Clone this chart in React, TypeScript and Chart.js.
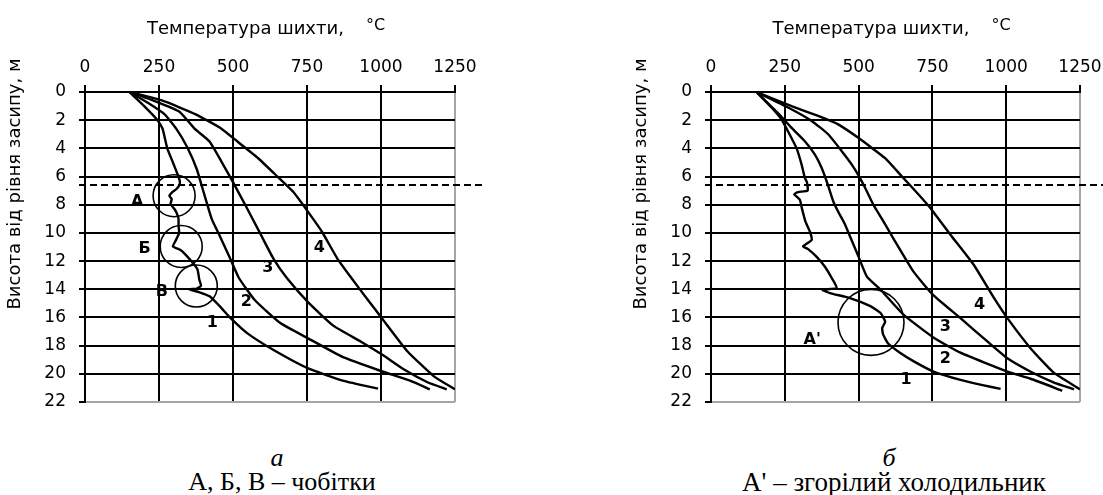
import React, { useEffect, useRef } from "react";
import { Chart, registerables } from "chart.js";
Chart.register(...registerables);

// ---------- shared axis data ----------
const tempTicks = [0, 250, 500, 750, 1000, 1250];
const heightTicks = [0, 2, 4, 6, 8, 10, 12, 14, 16, 18, 20, 22];
const dashedLevel = 6.6;

const xTitle = "Температура шихти,";
const xTitleUnit = "°C";
const yTitle = "Висота від рівня засипу, м";

// ---------- panel а ----------
const a1T = [150, 200, 245, 262, 278, 297, 312, 320, 319, 308, 295, 285, 293, 289, 302, 310, 316, 316, 318, 305, 297, 325, 359, 380, 386, 392, 378, 352, 385, 421, 455, 492, 550, 640, 752, 874, 990];
const a1H = [0, 1.0, 2.0, 2.6, 4.0, 5.0, 5.8, 6.3, 6.6, 6.9, 7.1, 7.36, 7.6, 7.95, 8.3, 8.6, 9.0, 9.5, 10.0, 10.6, 10.95, 11.25, 12.0, 12.6, 13.3, 13.75, 13.95, 14.0, 14.2, 14.5, 15.2, 16.05, 17.15, 18.35, 19.6, 20.5, 21.05];
const a2T = [150, 215, 270, 308, 345, 378, 402, 428, 455, 490, 520, 575, 660, 755, 870, 1000, 1100, 1165];
const a2H = [0, 0.8, 1.6, 2.6, 3.9, 5.5, 7.2, 9.0, 10.2, 11.8, 13.2, 14.8, 16.4, 17.5, 18.8, 19.8, 20.5, 21.1];
const a3T = [150, 230, 319, 370, 420, 460, 500, 546, 591, 636, 682, 755, 840, 931, 1001, 1078, 1157, 1222];
const a3H = [0, 0.6, 1.4, 2.6, 3.5, 4.9, 6.4, 8.2, 10.0, 11.8, 13.2, 14.95, 16.6, 17.7, 18.6, 19.7, 20.6, 21.1];
const a4T = [150, 260, 376, 461, 517, 585, 650, 704, 750, 800, 852, 900, 950, 1001, 1089, 1180, 1250];
const a4H = [0, 0.6, 1.6, 2.6, 3.55, 4.7, 6.0, 7.1, 8.4, 9.9, 11.8, 13.2, 14.6, 16.0, 18.4, 20.2, 21.1];
const aCircleT = [301, 325, 376];
const aCircleH = [7.36, 10.96, 13.77];
const aLabelText = ["А", "Б", "В", "1", "2", "3", "4"];
const aLabelT = [176, 201, 260, 430, 545, 618, 792];
const aLabelH = [7.82, 11.12, 14.16, 16.38, 14.87, 12.51, 11.07];
const aCaptionLetter = "а";
const aCaptionText = "А, Б, В – чобітки";

// ---------- panel б ----------
const b1T = [154, 205, 239, 261, 290, 307, 318, 325, 327, 295, 282, 301, 309, 320, 335, 341, 312, 329, 358, 386, 409, 426, 378, 403, 471, 540, 575, 590, 580, 583, 600, 640, 690, 754, 845, 920, 981];
const b1H = [0, 1.1, 1.95, 2.8, 4.0, 5.15, 6.1, 6.4, 7.0, 7.1, 7.25, 7.65, 8.35, 9.2, 9.9, 10.5, 10.95, 11.15, 11.7, 12.4, 13.2, 13.9, 14.05, 14.27, 14.63, 15.2, 15.7, 16.3, 16.75, 17.2, 17.85, 18.5, 19.15, 19.84, 20.43, 20.8, 21.07];
const b2T = [154, 227, 273, 318, 352, 375, 392, 403, 414, 431, 454, 470, 500, 528, 573, 652, 752, 845, 1004, 1083, 1190];
const b2H = [0, 1.5, 2.55, 3.5, 4.45, 5.4, 6.35, 7.05, 7.75, 8.5, 9.4, 10.2, 11.7, 13.1, 14.0, 15.8, 17.4, 18.5, 19.84, 20.35, 21.2];
const b3T = [154, 261, 341, 397, 443, 477, 502, 522, 550, 579, 618, 686, 752, 845, 936, 1004, 1083, 1160, 1230];
const b3H = [0, 1.1, 2.05, 3.0, 4.2, 5.15, 6.0, 6.8, 8.0, 9.0, 10.4, 12.75, 14.4, 16.05, 17.7, 18.9, 19.85, 20.6, 21.1];
const b4T = [154, 273, 363, 431, 499, 545, 590, 641, 700, 743, 811, 890, 958, 1004, 1083, 1160, 1250];
const b4H = [0, 1.0, 1.7, 2.3, 3.25, 3.97, 4.7, 5.86, 7.2, 8.23, 10.13, 12.26, 14.6, 16.05, 18.2, 19.9, 21.1];
const bCircleT = [542];
const bCircleH = [16.35];
const bLabelText = ["А'", "1", "2", "3", "4"];
const bLabelT = [343, 661, 794, 794, 910];
const bLabelH = [17.59, 20.43, 18.94, 16.7, 15.1];
const bCaptionLetter = "б";
const bCaptionText = "А' – згорілий холодильник";

type Panel = {
  curves: { t: number[]; h: number[] }[];
  circleT: number[];
  circleH: number[];
  circleR: number;
  labelText: string[];
  labelT: number[];
  labelH: number[];
};

const panelA: Panel = {
  curves: [
    { t: a1T, h: a1H },
    { t: a2T, h: a2H },
    { t: a3T, h: a3H },
    { t: a4T, h: a4H },
  ],
  circleT: aCircleT,
  circleH: aCircleH,
  circleR: 21,
  labelText: aLabelText,
  labelT: aLabelT,
  labelH: aLabelH,
};

const panelB: Panel = {
  curves: [
    { t: b1T, h: b1H },
    { t: b2T, h: b2H },
    { t: b3T, h: b3H },
    { t: b4T, h: b4H },
  ],
  circleT: bCircleT,
  circleH: bCircleH,
  circleR: 33,
  labelText: bLabelText,
  labelT: bLabelT,
  labelH: bLabelH,
};

const SANS = '"DejaVu Sans"';
const GRAY = "#a6a6a6";
const ZERO_PAD = () => ({ left: 0, top: 0, right: 0, bottom: 0 });

function decorPlugin(panel: Panel) {
  return {
    id: "decor",
    afterDraw(chart: any) {
      const { ctx, chartArea: ca, scales } = chart;
      const xs = scales.x;
      const ys = scales.y;
      ctx.save();
      // dashed level line
      ctx.setLineDash([7, 4]);
      ctx.lineWidth = 2;
      ctx.strokeStyle = "#000";
      const yy = Math.round(ys.getPixelForValue(dashedLevel));
      ctx.beginPath();
      ctx.moveTo(ca.left - 6, yy);
      ctx.lineTo(ca.right + 28, yy);
      ctx.stroke();
      ctx.setLineDash([]);
      // curve / zone labels
      ctx.fillStyle = "#000";
      ctx.font = "bold 16px " + SANS;
      ctx.textAlign = "center";
      ctx.textBaseline = "middle";
      panel.labelText.forEach((txt, i) => {
        ctx.fillText(txt, xs.getPixelForValue(panel.labelT[i]), ys.getPixelForValue(panel.labelH[i]));
      });
      // x axis title with raised unit
      ctx.textBaseline = "alphabetic";
      ctx.textAlign = "left";
      ctx.font = "18px " + SANS;
      const w1 = ctx.measureText(xTitle).width;
      ctx.font = "16px " + SANS;
      const w2 = ctx.measureText(xTitleUnit).width;
      const gap = 22;
      const cx = (ca.left + ca.right) / 2;
      const start = cx - (w1 + gap + w2) / 2 - 4;
      ctx.font = "18px " + SANS;
      ctx.fillText(xTitle, start, ca.top - 58);
      ctx.font = "16px " + SANS;
      ctx.fillText(xTitleUnit, start + w1 + gap, ca.top - 62);
      // y axis title
      ctx.translate(ca.left - 70, ca.top + 92);
      ctx.rotate(-Math.PI / 2);
      ctx.font = "18px " + SANS;
      ctx.textAlign = "center";
      ctx.textBaseline = "middle";
      ctx.fillText(yTitle, 0, 0);
      ctx.restore();
    },
  };
}

function makeConfig(panel: Panel, padRight: number): any {
  const datasets: any[] = panel.curves.map((c) => ({
    type: "scatter",
    data: c.t.map((t, i) => ({ x: t, y: c.h[i] })),
    showLine: true,
    borderColor: "#000",
    borderWidth: 2.4,
    pointRadius: 0,
    fill: false,
    tension: 0.15,
  }));
  datasets.push({
    type: "scatter",
    data: panel.circleT.map((t, i) => ({ x: t, y: panel.circleH[i] })),
    showLine: false,
    pointStyle: "circle",
    pointRadius: panel.circleR,
    pointBorderWidth: 1.6,
    pointBorderColor: "#000",
    pointBackgroundColor: "rgba(0,0,0,0)",
    pointHoverRadius: panel.circleR,
    clip: false,
  });
  return {
    type: "scatter",
    data: { datasets },
    options: {
      animation: false,
      responsive: false,
      events: [],
      layout: { autoPadding: false, padding: { left: 0, top: 0, right: padRight, bottom: 18 } },
      plugins: { legend: { display: false }, tooltip: { enabled: false }, title: { display: false } },
      scales: {
        x: {
          type: "linear",
          position: "top",
          min: 0,
          max: 1250,
          afterBuildTicks: (s: any) => {
            s.ticks = tempTicks.map((v) => ({ value: v }));
          },
          afterFit: (s: any) => {
            s.height = 92;
            s.paddingLeft = 0;
            s.paddingRight = 0;
            s.getPadding = ZERO_PAD;
          },
          ticks: {
            color: "#000",
            font: { family: "DejaVu Sans", size: 17 },
            padding: 7,
            maxRotation: 0,
            autoSkip: false,
            callback: (v: any) => String(v),
          },
          grid: {
            color: (c: any) => (c.tick && c.tick.value === 1250 ? GRAY : "#000"),
            tickColor: "#000",
            lineWidth: 2,
            tickLength: 7,
          },
          border: { display: true, color: "#000", width: 2 },
          title: { display: false },
        },
        y: {
          type: "linear",
          reverse: true,
          min: 0,
          max: 22,
          afterBuildTicks: (s: any) => {
            s.ticks = heightTicks.map((v) => ({ value: v }));
          },
          afterFit: (s: any) => {
            s.width = 85;
            s.paddingTop = 0;
            s.paddingBottom = 0;
            s.getPadding = ZERO_PAD;
          },
          ticks: {
            color: "#000",
            font: { family: "DejaVu Sans", size: 17 },
            padding: 13,
            autoSkip: false,
            callback: (v: any) => String(v),
          },
          grid: {
            color: (c: any) => (c.tick && c.tick.value === 22 ? GRAY : "#000"),
            tickColor: "#000",
            lineWidth: 2,
            tickLength: 6,
          },
          border: { display: true, color: "#000", width: 2 },
          title: { display: false },
        },
      },
    },
    plugins: [decorPlugin(panel)],
  };
}

const captionStyle: React.CSSProperties = {
  position: "absolute",
  width: 400,
  textAlign: "center",
  fontFamily: '"Liberation Serif", "Times New Roman", serif',
  fontSize: 26,
  lineHeight: "26px",
  color: "#000",
  whiteSpace: "nowrap",
};

export default function App() {
  const leftRef = useRef<HTMLCanvasElement | null>(null);
  const rightRef = useRef<HTMLCanvasElement | null>(null);

  useEffect(() => {
    const c1 = new Chart(leftRef.current as HTMLCanvasElement, makeConfig(panelA, 520 - 455));
    const c2 = new Chart(rightRef.current as HTMLCanvasElement, makeConfig(panelB, 477 - 454));
    return () => {
      c1.destroy();
      c2.destroy();
    };
  }, []);

  return (
    <div style={{ position: "absolute", left: 0, top: 0, width: 1103, height: 495, background: "#fff", overflow: "hidden" }}>
      <canvas ref={leftRef} width={520} height={420} style={{ position: "absolute", left: 0, top: 0, width: 520, height: 420 }} />
      <canvas ref={rightRef} width={477} height={420} style={{ position: "absolute", left: 626, top: 0, width: 477, height: 420 }} />
      <div style={{ ...captionStyle, left: 277 - 200, top: 445, fontStyle: "italic" }}>{aCaptionLetter}</div>
      <div style={{ ...captionStyle, left: 282 - 200, top: 469 }}>{aCaptionText}</div>
      <div style={{ ...captionStyle, left: 889 - 200, top: 445, fontStyle: "italic" }}>{bCaptionLetter}</div>
      <div style={{ ...captionStyle, left: 894 - 200, top: 469, fontSize: 27 }}>{bCaptionText}</div>
    </div>
  );
}
